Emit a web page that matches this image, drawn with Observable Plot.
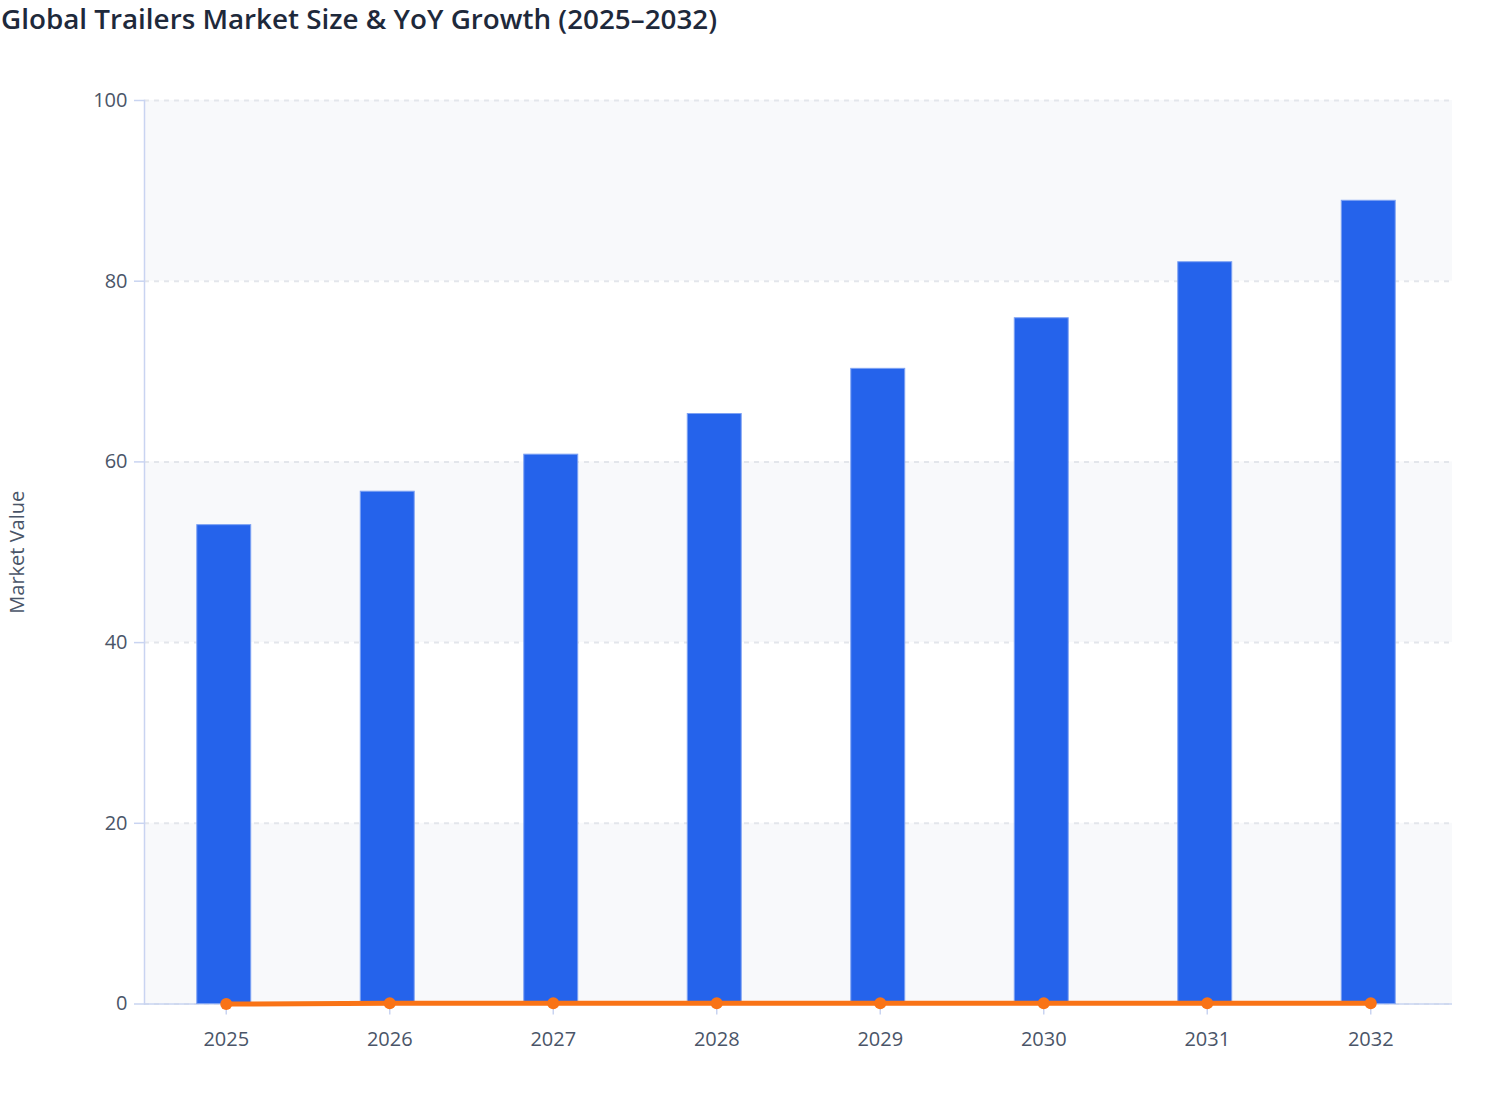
<!DOCTYPE html>
<html>
<head>
<meta charset="utf-8">
<script src="https://cdn.jsdelivr.net/npm/d3@7"></script>
<script src="https://cdn.jsdelivr.net/npm/@observablehq/plot@0.6"></script>
<style>
  html, body { margin: 0; padding: 0; background: #ffffff; }
  #title { font-family: "Open Sans", sans-serif; font-size: 27.8px; font-weight: 600; line-height: 36px; height: 36px; color: #1e293b; margin: 0 0 0 1px; white-space: nowrap; }
  #chart svg { display: block; }
</style>
</head>
<body>
<div id="title">Global Trailers Market Size &amp; YoY Growth (2025–2032)</div>
<div id="chart"></div>
<script>
const years = ["2025", "2026", "2027", "2028", "2029", "2030", "2031", "2032"];
const marketValue = [53.0, 56.7, 60.8, 65.3, 70.3, 75.9, 82.1, 88.9];
const yoyGrowth = [0.0, 0.07, 0.072, 0.074, 0.077, 0.08, 0.082, 0.083];
const yTicks = [0, 20, 40, 60, 80, 100];
const bandStarts = [0, 40, 80];
const bandEnds = [20, 60, 100];
const yLabel = "Market Value";

const data = years.map((year, i) => ({year, value: marketValue[i], growth: yoyGrowth[i]}));
const bands = bandStarts.map((s, i) => ({y1: s, y2: bandEnds[i]}));

const axisColor = "#c9d4f1";
const textColor = "#4a5568";

const chart = Plot.plot({
  width: 1508,
  height: 1084,
  marginTop: 64,
  marginBottom: 116.5,
  marginLeft: 144,
  marginRight: 56,
  style: {fontFamily: "Open Sans, sans-serif", fontSize: "20px", color: textColor, background: "transparent", overflow: "visible"},
  x: {domain: years, paddingInner: 0.67, paddingOuter: 0.335, round: false, label: null},
  y: {domain: [0, 100], label: null},
  marks: [
    Plot.rect(bands, {y1: "y1", y2: "y2", fill: "#f8f9fb"}),
    Plot.gridY(yTicks, {stroke: "#e3e6eb", strokeOpacity: 1, strokeWidth: 2, strokeDasharray: "5,5"}),
    Plot.frame({anchor: "left", stroke: axisColor, strokeWidth: 1.5}),
    Plot.ruleY([0], {stroke: axisColor, strokeWidth: 1.5}),
    Plot.axisY(yTicks, {tickSize: 10, tickPadding: 7, stroke: axisColor, strokeWidth: 1.5, fill: textColor, fontSize: 20, label: null}),
    Plot.axisX({tickSize: 11, tickPadding: 17, stroke: axisColor, strokeWidth: 1.5, fill: textColor, fontSize: 20, label: null}),
    Plot.barY(data, {x: "year", y: "value", fill: "#2563eb", stroke: "#7ea2f3", strokeWidth: 1, dx: -2}),
    Plot.line(data, {x: "year", y: "growth", stroke: "#f97316", strokeWidth: 5}),
    Plot.dot(data, {x: "year", y: "growth", r: 6, fill: "#f97316", stroke: "none"}),
    Plot.text([yLabel], {frameAnchor: "left", textAnchor: "middle", dx: -127, rotate: -90, fill: textColor, fontSize: 20})
  ]
});
document.getElementById("chart").appendChild(chart);
</script>
</body>
</html>
